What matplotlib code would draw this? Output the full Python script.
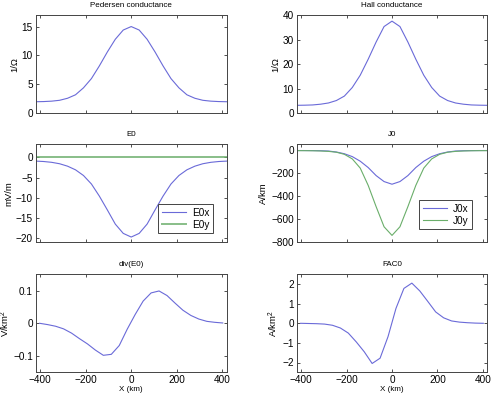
import matplotlib
matplotlib.use("Agg")
import matplotlib.pyplot as plt
import numpy as np

plt.rcParams['font.family'] = ['Liberation Sans', 'DejaVu Sans']

# grid nodes (km) and midpoints
x_nodes = [-420, -385, -350, -315, -280, -245, -210, -175, -140, -105, -70, -35, 0,
           35, 70, 105, 140, 175, 210, 245, 280, 315, 350, 385, 420]
x_mid = [-402.5, -367.5, -332.5, -297.5, -262.5, -227.5, -192.5, -157.5, -122.5, -87.5, -52.5, -17.5,
         17.5, 52.5, 87.5, 122.5, 157.5, 192.5, 227.5, 262.5, 297.5, 332.5, 367.5, 402.5]

pedersen = [2.0, 2.03, 2.1, 2.25, 2.6, 3.2, 4.4, 6.0, 8.2, 10.6, 12.8, 14.4, 15.0,
            14.4, 12.8, 10.6, 8.2, 6.0, 4.4, 3.2, 2.6, 2.25, 2.1, 2.03, 2.0]
hall = [3.25, 3.3, 3.4, 3.7, 4.2, 5.2, 7.0, 10.5, 15.5, 22.0, 29.0, 35.3, 37.5,
        35.3, 29.0, 22.0, 15.5, 10.5, 7.0, 5.2, 4.2, 3.7, 3.4, 3.3, 3.25]
e0x = [-0.95, -1.05, -1.25, -1.6, -2.2, -3.1, -4.5, -6.6, -9.6, -13.0, -16.5, -18.8, -19.7,
       -18.8, -16.5, -13.0, -9.6, -6.6, -4.5, -3.1, -2.2, -1.6, -1.25, -1.05, -0.95]
e0y = [0.0] * 25
j0x = [-2.0, -2.2, -2.7, -3.8, -6.5, -15, -30, -55, -95, -150, -220, -272, -295,
       -272, -220, -150, -95, -55, -30, -15, -6.5, -3.8, -2.7, -2.2, -2.0]
j0y = [-3.1, -3.4, -4.2, -6.0, -9.5, -17, -35, -75, -155, -305, -490, -665, -740,
       -665, -490, -305, -155, -75, -35, -17, -9.5, -6.0, -4.2, -3.4, -3.1]
div_e0 = [0.0, -0.004, -0.009, -0.017, -0.030, -0.047, -0.063, -0.082, -0.098, -0.095, -0.068, -0.018,
          0.027, 0.068, 0.093, 0.099, 0.085, 0.062, 0.040, 0.024, 0.013, 0.006, 0.003, 0.001]
fac0 = [0.0, -0.01, -0.02, -0.04, -0.10, -0.24, -0.50, -0.95, -1.45, -2.05, -1.78, -0.68,
        0.76, 1.78, 2.05, 1.65, 1.12, 0.58, 0.28, 0.12, 0.06, 0.03, 0.01, 0.0]

BLUE = '#6a6ad8'
GREEN = '#6aae6a'

W, H = 492, 398
fig = plt.figure(figsize=(W / 100, H / 100), dpi=100)

def ax_at(l, r, t, b):
    return fig.add_axes([l / W, 1 - b / H, (r - l) / W, (b - t) / H])

cols = [(35.7, 226.7), (296.7, 487.3)]
rows = [(15, 113.3), (144.3, 242.3), (274.3, 372.3)]

TICK_FS = 7.2
TITLE_FS = 5.8
LAB_FS = 6.8

def style(ax, title, ylabel, ylim, yticks, bottom=False, ylabpad=2):
    ax.set_xlim(-420, 420)
    ax.set_ylim(*ylim)
    ax.set_xticks([-400, -200, 0, 200, 400])
    ax.set_yticks(yticks)
    ax.tick_params(direction='in', length=2.5, width=0.6, top=True, right=True,
                   labelsize=TICK_FS, pad=2, colors='#333333', labelcolor='black')
    if bottom:
        ax.set_xticklabels(['\u2212400', '\u2212200', '0', '200', '400'])
        ax.set_xlabel('X (km)', fontsize=TITLE_FS, labelpad=1)
    else:
        ax.set_xticklabels([])
    for s in ax.spines.values():
        s.set_color('#444444')
        s.set_linewidth(0.7)
    ax.set_title(title, fontsize=TITLE_FS, pad=6)
    ax.set_ylabel(ylabel, fontsize=LAB_FS, labelpad=ylabpad)

ax = ax_at(*cols[0], *rows[0])
ax.plot(x_nodes, pedersen, color=BLUE, lw=0.8)
style(ax, 'Pedersen conductance', '1/\u03a9', (0, 17), [0, 5, 10, 15])

ax = ax_at(*cols[1], *rows[0])
ax.plot(x_nodes, hall, color=BLUE, lw=0.8)
style(ax, 'Hall conductance', '1/\u03a9', (0, 40), [0, 10, 20, 30, 40])

ax = ax_at(*cols[0], *rows[1])
ax.plot(x_nodes, e0x, color=BLUE, lw=0.8, label='E0x')
ax.plot(x_nodes, e0y, color=GREEN, lw=1.4, alpha=0.8, label='E0y')
style(ax, 'E0', 'mV/m', (-21, 3.2), [-20, -15, -10, -5, 0])
ax.set_yticklabels(['\u221220', '\u221215', '\u221210', '\u22125', '0'])
leg = ax.legend(loc='lower right', bbox_to_anchor=(0.927, 0.092), fontsize=TICK_FS,
                fancybox=False, framealpha=1, edgecolor='#444444', borderpad=0.35,
                handlelength=2.4, handletextpad=0.6, labelspacing=0.2, borderaxespad=0)
leg.get_frame().set_linewidth(0.7)

ax = ax_at(*cols[1], *rows[1])
ax.plot(x_nodes, j0x, color=BLUE, lw=0.8, label='J0x')
ax.plot(x_nodes, j0y, color=GREEN, lw=0.8, label='J0y')
style(ax, 'J0', 'A/km', (-800, 52), [-800, -600, -400, -200, 0])
ax.set_yticklabels(['\u2212800', '\u2212600', '\u2212400', '\u2212200', '0'])
leg = ax.legend(loc='lower right', bbox_to_anchor=(0.918, 0.133), fontsize=TICK_FS,
                fancybox=False, framealpha=1, edgecolor='#444444', borderpad=0.35,
                handlelength=2.4, handletextpad=0.6, labelspacing=0.2, borderaxespad=0)
leg.get_frame().set_linewidth(0.7)

ax = ax_at(*cols[0], *rows[2])
ax.plot(x_mid, div_e0, color=BLUE, lw=0.8)
style(ax, 'div(E0)', 'V/km$^{\\mathregular{2}}$', (-0.15, 0.15), [-0.1, 0, 0.1], bottom=True,
      ylabpad=1)
ax.set_yticklabels(['\u22120.1', '0', '0.1'])

ax = ax_at(*cols[1], *rows[2])
ax.plot(x_mid, fac0, color=BLUE, lw=0.8)
style(ax, 'FAC0', 'A/km$^{\\mathregular{2}}$', (-2.5, 2.5), [-2, -1, 0, 1, 2], bottom=True)
ax.set_yticklabels(['\u22122', '\u22121', '0', '1', '2'])

fig.savefig('out.png', dpi=100)
